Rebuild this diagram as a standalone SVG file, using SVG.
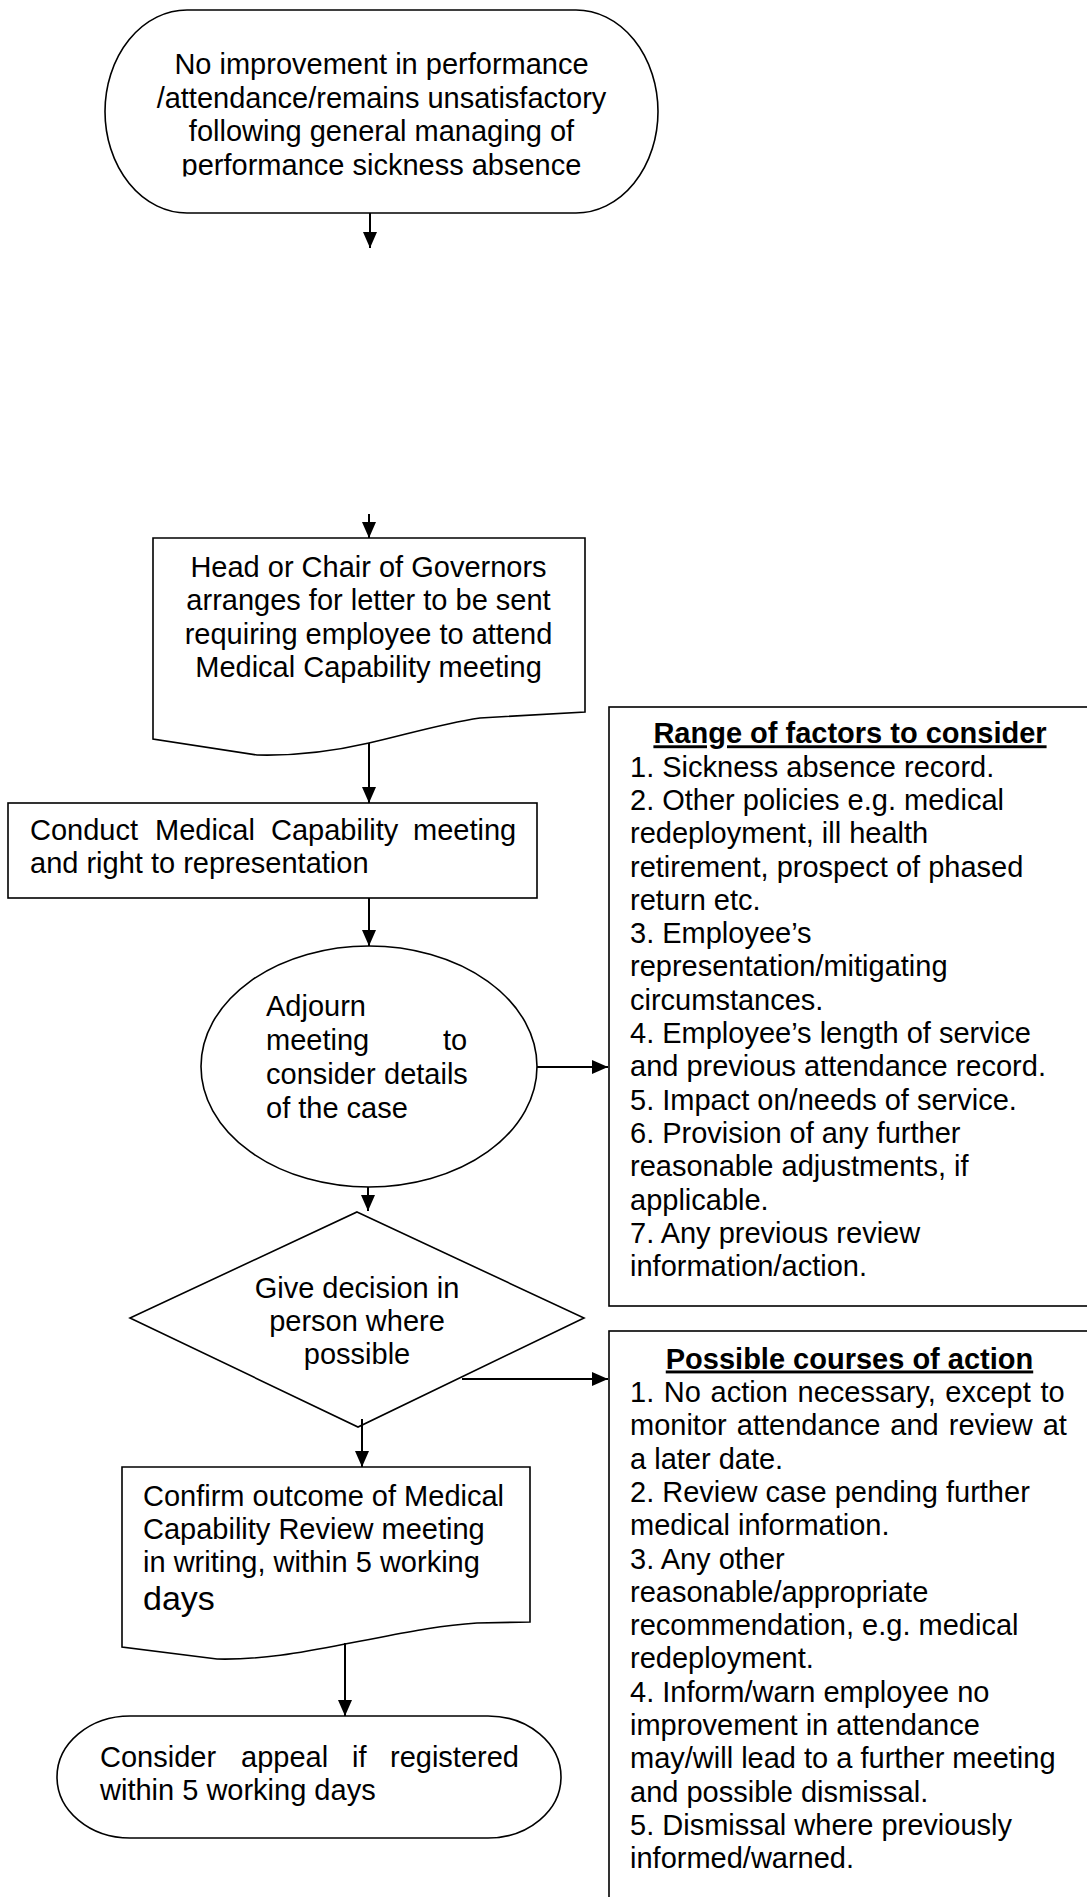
<svg xmlns="http://www.w3.org/2000/svg" width="1087" height="1897" viewBox="0 0 1087 1897">
<style>
  .shape { fill: #ffffff; stroke: #000000; stroke-width: 1.6; }
  .t { font-family: "Liberation Sans", Arial, sans-serif; font-size: 29px; fill: #000000; }
  .c { text-anchor: middle; }
  .title { font-weight: bold; text-decoration: underline; text-anchor: middle; }
  .conn { stroke: #000000; stroke-width: 2; fill: none; marker-end: url(#arrow); }
</style>
<defs>
  <marker id="arrow" viewBox="0 0 16 14" refX="16" refY="7" markerWidth="16" markerHeight="14" markerUnits="userSpaceOnUse" orient="auto">
    <path d="M0,0 L16,7 L0,14 z" fill="#000000"/>
  </marker>
  <clipPath id="clipTop">
    <rect x="105" y="10" width="553" height="166.5"/>
  </clipPath>
</defs>
<rect width="1087" height="1897" fill="#ffffff"/>

<g id="start">
  <rect class="shape" x="105" y="10" width="553" height="203" rx="82" ry="101.5"/>
  <g clip-path="url(#clipTop)">
    <text class="t c" x="381.5" y="74">No improvement in performance</text>
    <text class="t c" x="381.5" y="107.5">/attendance/remains unsatisfactory</text>
    <text class="t c" x="381.5" y="141">following general managing of</text>
    <text class="t c" x="381.5" y="174.5">performance sickness absence</text>
  </g>
</g>

<g id="letter">
  <path class="shape" d="M153,538 H585 V712 L480,718 C440,724 405,735 369,743 C330,752 295,756 257,755 L153,739 Z"/>
  <text class="t c" x="368.5" y="577">Head or Chair of Governors</text>
  <text class="t c" x="368.5" y="610">arranges for letter to be sent</text>
  <text class="t c" x="368.5" y="643.5">requiring employee to attend</text>
  <text class="t c" x="368.5" y="677">Medical Capability meeting</text>
</g>

<g id="conduct">
  <rect class="shape" x="8" y="803" width="529" height="95"/>
  <text class="t" y="840"><tspan x="30">Conduct</tspan><tspan x="155">Medical</tspan><tspan x="271">Capability</tspan><tspan x="413">meeting</tspan></text>
  <text class="t" x="30" y="873">and right to representation</text>
</g>

<g id="adjourn">
  <ellipse class="shape" cx="369" cy="1066.5" rx="168" ry="120.5"/>
  <text class="t" x="266" y="1016">Adjourn</text>
  <text class="t" y="1050"><tspan x="266">meeting</tspan><tspan x="443">to</tspan></text>
  <text class="t" y="1084"><tspan x="266">consider</tspan><tspan x="384">details</tspan></text>
  <text class="t" x="266" y="1118">of the case</text>
</g>

<g id="decision">
  <path class="shape" d="M357,1212 L584,1318 L358,1427 L130,1318 Z"/>
  <text class="t c" x="357" y="1298">Give decision in</text>
  <text class="t c" x="357" y="1331">person where</text>
  <text class="t c" x="357" y="1364">possible</text>
</g>

<g id="confirm">
  <path class="shape" d="M122,1467 H530 V1622 L477,1623 C430,1626 390,1636 345,1644 C300,1653 260,1660 217,1659 L122,1647 Z"/>
  <text class="t" x="143" y="1506">Confirm outcome of Medical</text>
  <text class="t" x="143" y="1539">Capability Review meeting</text>
  <text class="t" x="143" y="1572">in writing, within 5 working</text>
  <text class="t" x="143" y="1610" style="font-size:34px">days</text>
</g>

<g id="appeal">
  <rect class="shape" x="57" y="1716" width="504" height="122" rx="73" ry="61"/>
  <text class="t" y="1767"><tspan x="100">Consider</tspan><tspan x="241">appeal</tspan><tspan x="352">if</tspan><tspan x="390">registered</tspan></text>
  <text class="t" x="100" y="1800">within 5 working days</text>
</g>

<g id="factors">
  <rect class="shape" x="609" y="707" width="500" height="599"/>
  <text class="t title" x="850" y="743.3">Range of factors to consider</text>
  <text class="t" x="630" y="776.6">
    <tspan x="630" y="776.6">1. Sickness absence record.</tspan>
    <tspan x="630" y="809.9">2. Other policies e.g. medical</tspan>
    <tspan x="630" y="843.2">redeployment, ill health</tspan>
    <tspan x="630" y="876.5">retirement, prospect of phased</tspan>
    <tspan x="630" y="909.8">return etc.</tspan>
    <tspan x="630" y="943.1">3. Employee’s</tspan>
    <tspan x="630" y="976.4">representation/mitigating</tspan>
    <tspan x="630" y="1009.7">circumstances.</tspan>
    <tspan x="630" y="1043">4. Employee’s length of service</tspan>
    <tspan x="630" y="1076.3">and previous attendance record.</tspan>
    <tspan x="630" y="1109.6">5. Impact on/needs of service.</tspan>
    <tspan x="630" y="1142.9">6. Provision of any further</tspan>
    <tspan x="630" y="1176.2">reasonable adjustments, if</tspan>
    <tspan x="630" y="1209.5">applicable.</tspan>
    <tspan x="630" y="1242.8">7. Any previous review</tspan>
    <tspan x="630" y="1276.1">information/action.</tspan>
  </text>
</g>

<g id="actions">
  <rect class="shape" x="609" y="1331" width="500" height="600"/>
  <text class="t title" x="849.5" y="1368.5">Possible courses of action</text>
  <text class="t" x="630" y="1402">
    <tspan x="630" y="1402" style="word-spacing:1.6px">1. No action necessary, except to</tspan>
    <tspan x="630" y="1435.3" style="word-spacing:2px">monitor attendance and review at</tspan>
    <tspan x="630" y="1468.6">a later date.</tspan>
    <tspan x="630" y="1501.9">2. Review case pending further</tspan>
    <tspan x="630" y="1535.2">medical information.</tspan>
    <tspan x="630" y="1568.5">3. Any other</tspan>
    <tspan x="630" y="1601.8">reasonable/appropriate</tspan>
    <tspan x="630" y="1635.1">recommendation, e.g. medical</tspan>
    <tspan x="630" y="1668.4">redeployment.</tspan>
    <tspan x="630" y="1701.7">4. Inform/warn employee no</tspan>
    <tspan x="630" y="1735">improvement in attendance</tspan>
    <tspan x="630" y="1768.3">may/will lead to a further meeting</tspan>
    <tspan x="630" y="1801.6">and possible dismissal.</tspan>
    <tspan x="630" y="1834.9">5. Dismissal where previously</tspan>
    <tspan x="630" y="1868.2">informed/warned.</tspan>
  </text>
</g>

<g id="connectors">
  <line class="conn" x1="370" y1="213" x2="370" y2="248"/>
  <line class="conn" x1="369" y1="514" x2="369" y2="538"/>
  <line class="conn" x1="369" y1="743" x2="369" y2="803"/>
  <line class="conn" x1="369" y1="898" x2="369" y2="946"/>
  <line class="conn" x1="537" y1="1067" x2="608" y2="1067"/>
  <line class="conn" x1="368" y1="1187" x2="368" y2="1211"/>
  <line class="conn" x1="362" y1="1419" x2="362" y2="1467"/>
  <line class="conn" x1="462" y1="1379" x2="608" y2="1379"/>
  <line class="conn" x1="345" y1="1643" x2="345" y2="1716"/>
</g>
</svg>
